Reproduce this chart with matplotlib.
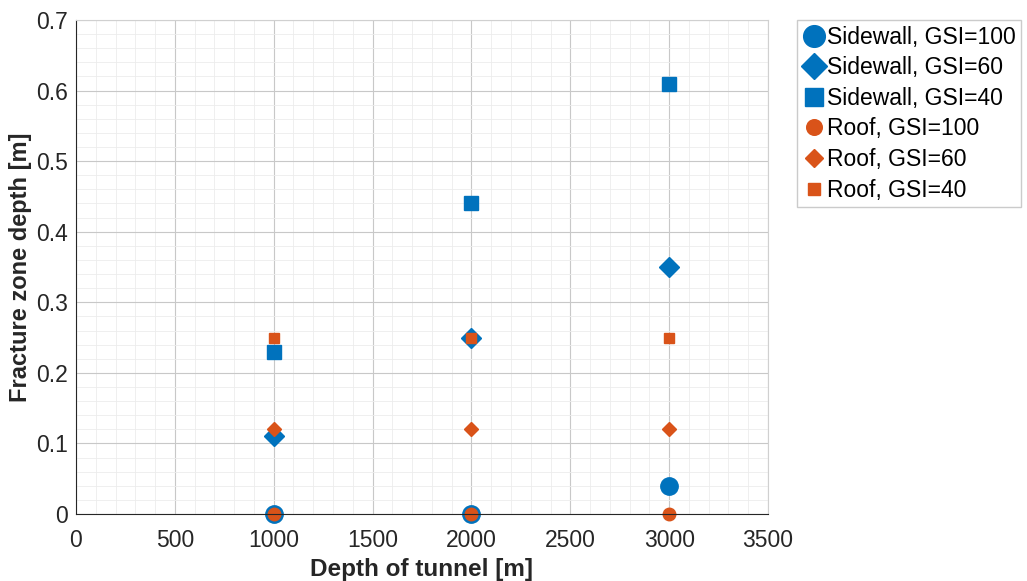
import matplotlib
matplotlib.use('Agg')
import matplotlib.pyplot as plt
import numpy as np

plt.rcParams['font.family'] = ['Liberation Sans', 'DejaVu Sans']

# Data
depth = [1000, 2000, 3000]
sidewall_100 = [0.0, 0.0, 0.04]
sidewall_60 = [0.11, 0.25, 0.35]
sidewall_40 = [0.23, 0.44, 0.61]
roof_100 = [0.0, 0.0, 0.0]
roof_60 = [0.12, 0.12, 0.12]
roof_40 = [0.25, 0.25, 0.25]

blue = '#0072BD'
orange = '#D95319'

fig = plt.figure(figsize=(10.27, 5.81), dpi=100)
ax = fig.add_axes([76/1027, 1-514/581, (768-76)/1027, (514-20)/581])

ax.plot(depth, sidewall_100, 'o', color=blue, ms=12.5, ls='none', clip_on=False, label='Sidewall, GSI=100')
ax.plot(depth, sidewall_60, 'D', color=blue, ms=10.5, ls='none', clip_on=False, label='Sidewall, GSI=60')
ax.plot(depth, sidewall_40, 's', color=blue, ms=10, ls='none', clip_on=False, label='Sidewall, GSI=40')
ax.plot(depth, roof_100, 'o', color=orange, ms=9, ls='none', clip_on=False, label='Roof, GSI=100')
ax.plot(depth, roof_60, 'D', color=orange, ms=7.5, ls='none', clip_on=False, label='Roof, GSI=60')
ax.plot(depth, roof_40, 's', color=orange, ms=7, ls='none', clip_on=False, label='Roof, GSI=40')

ax.set_xlim(0, 3500)
ax.set_ylim(0, 0.7)
ax.set_xticks(np.arange(0, 3501, 500))
ax.set_yticks(np.arange(0, 0.71, 0.1))
ax.set_yticklabels(['0', '0.1', '0.2', '0.3', '0.4', '0.5', '0.6', '0.7'])
ax.set_xticks(np.arange(0, 3501, 100), minor=True)
ax.set_yticks(np.arange(0, 0.701, 0.02), minor=True)
ax.grid(which='major', color='#c8c8c8', lw=0.8)
ax.grid(which='minor', color='#ececec', lw=0.6)
ax.set_axisbelow(True)
ax.tick_params(which='both', length=0, labelsize=16.5, colors='#262626')
ax.tick_params(axis='x', pad=11)
ax.tick_params(axis='y', pad=6)
for s in ax.spines.values():
    s.set_color('#d0d0d0')
ax.spines['bottom'].set_color('#262626')
ax.spines['left'].set_color('#262626')

ax.set_xlabel('Depth of tunnel [m]', fontsize=17.5, fontweight='bold', color='#262626', labelpad=4)
ax.set_ylabel('Fracture zone depth [m]', fontsize=17, fontweight='bold', color='#262626', labelpad=3)

leg = ax.legend(loc='upper left', bbox_to_anchor=(797/1027, 1-20/581), bbox_transform=fig.transFigure,
                fontsize=16.5, frameon=True, fancybox=False, edgecolor='#bfbfbf',
                handletextpad=0.05, handlelength=1.0, borderpad=0.25, labelspacing=0.33,
                borderaxespad=0, markerscale=1.25)
leg.get_frame().set_linewidth(1)

fig.savefig('out.png', dpi=100)
